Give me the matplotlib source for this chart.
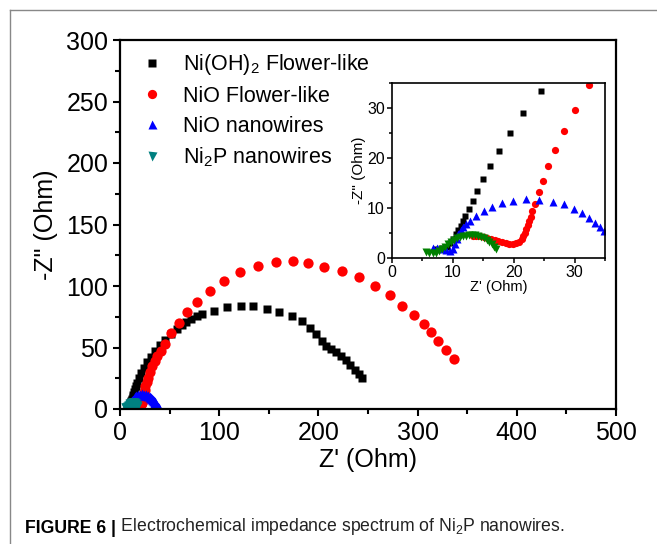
import matplotlib
matplotlib.use("Agg")
import matplotlib.pyplot as plt
from matplotlib.lines import Line2D
from matplotlib.ticker import MultipleLocator

plt.rcParams["font.family"] = ["Liberation Sans", "DejaVu Sans"]
plt.rcParams["mathtext.default"] = "regular"

# Ni(OH)2 flower-like
ohx = [7.3, 8.2, 9.0, 9.6, 10.05, 10.5, 10.9, 11.3, 11.7, 12.1, 12.7, 13.3, 14.0, 14.9,
       16.1, 17.6, 19.4, 21.6, 24.5, 27.5, 31, 35, 40, 45, 51, 57, 62, 67, 72, 78, 83,
       95, 108, 121.6, 134, 148, 160.6, 173, 183, 191.5, 198, 204, 208, 213, 218, 223,
       228, 232, 237, 241, 243.6]
ohy = [1.9, 2.0, 2.2, 3.0, 3.9, 4.8, 5.6, 6.5, 7.4, 8.5, 9.9, 11.5, 13.5, 15.9,
       18.5, 21.5, 25.1, 29.1, 33.5, 38, 42.5, 47, 52, 56.5, 61, 65, 68.5, 71, 73, 75.5, 77,
       80, 82.7, 83.7, 83.5, 81, 79, 76, 71.5, 66, 60.7, 55.5, 51, 49, 46.6, 43,
       40, 35.8, 32, 28.5, 25]

# NiO flower-like
nfx = [13.3, 13.9, 14.5, 15.1, 15.7, 16.3, 16.9, 17.5, 18.1, 18.7, 19.3, 19.9, 20.4,
       20.9, 21.3, 21.6, 21.9, 22.1, 22.3, 22.5, 22.8, 23.1, 23.5, 24.1, 24.8, 25.7,
       26.8, 28.2, 30.1, 32.4, 35, 37.5, 41, 45, 51, 59, 68, 78, 91, 105, 121, 139, 157,
       174, 190, 206, 223.5, 241, 257, 272, 284, 296, 306, 314, 321, 329, 337]
nfy = [4.5, 4.5, 4.4, 4.2, 4.0, 3.8, 3.6, 3.4, 3.2, 3.0, 2.9, 2.9, 3.0,
       3.3, 3.8, 4.4, 5.1, 5.8, 6.6, 7.4, 8.3, 9.4, 10.9, 13.2, 15.5, 18.4,
       21.7, 25.4, 29.7, 34.7, 39, 43, 47, 53, 61.5, 70, 78.6, 87, 96, 104, 111, 116.5, 119.8,
       120.3, 118.5, 115.7, 112.5, 107, 100, 92.7, 84, 76.4, 69, 62.3, 55.3, 48, 41]

# NiO nanowires
nwx = [6.8, 7.5, 8.2, 8.9, 9.5, 10.0, 10.4, 10.7, 10.9, 11.3, 11.7, 12.2, 12.8, 13.9,
       15.1, 16.4, 18.1, 19.9, 22, 24.2, 26.4, 28.3, 29.9, 31.3, 32.3, 33.3, 34.1, 34.8,
       35.6, 36.4, 37.2, 38, 38.8, 39.5]
nwy = [2.0, 2.0, 1.9, 1.7, 1.5, 1.8, 2.8, 3.8, 4.9, 5.6, 6.2, 6.9, 7.5, 8.5,
       9.4, 10.3, 11.1, 11.5, 11.8, 11.7, 11.3, 10.9, 9.9, 9.1, 8.1, 7.0, 6.2, 5.4,
       4.6, 3.7, 2.8, 2.0, 1.2, 0.6]

# Ni2P nanowires
npx = [5.7, 6.2, 6.7, 7.2, 7.7, 8.2, 8.7, 9.2, 9.7, 10.2, 10.7, 11.2, 11.7, 12.2, 12.7,
       13.2, 13.7, 14.2, 14.7, 15.2, 15.6, 16.0, 16.4, 16.8, 17.1]
npy = [1.2, 1.1, 1.0, 1.1, 1.4, 1.8, 2.3, 2.8, 3.3, 3.7, 4.0, 4.2, 4.4, 4.5, 4.6,
       4.6, 4.6, 4.5, 4.3, 4.1, 3.7, 3.3, 2.8, 2.3, 1.9]

labels = ["Ni(OH)$_2$ Flower-like", "NiO Flower-like", "NiO nanowires", "Ni$_2$P nanowires"]

fig = plt.figure(figsize=(6.57, 5.44), dpi=100)

# grey page frame
fig.add_artist(Line2D([10 / 657, 1.0], [1 - 10 / 544] * 2, color="#888888", lw=1.0))
fig.add_artist(Line2D([10 / 657] * 2, [0.0, 1 - 10 / 544], color="#888888", lw=1.0))

ax = fig.add_axes([120 / 657, 1 - 409 / 544, 496 / 657, 369 / 544])
ax.plot(ohx, ohy, "s", color="black", ms=6.2, mec="none", label=labels[0])
ax.plot(nfx, nfy, "o", color="red", ms=7.4, mec="none", label=labels[1])
ax.plot(nwx, nwy, "^", color="blue", ms=7.2, mec="none", label=labels[2])
ax.plot(npx, npy, "v", color="#008080", ms=7.2, mec="none", label=labels[3])
ax.set_xlim(0, 500)
ax.set_ylim(0, 300)
ax.xaxis.set_major_locator(MultipleLocator(100))
ax.xaxis.set_minor_locator(MultipleLocator(50))
ax.yaxis.set_major_locator(MultipleLocator(50))
ax.yaxis.set_minor_locator(MultipleLocator(25))
ax.tick_params(which="both", direction="out", width=1.5, labelsize=18, top=False, right=False)
ax.tick_params(which="major", length=5)
ax.tick_params(which="minor", length=3.5)
for s in ax.spines.values():
    s.set_linewidth(1.6)
ax.set_xlabel("Z' (Ohm)", fontsize=18, labelpad=2)
ax.set_ylabel('-Z" (Ohm)', fontsize=18, labelpad=6)
ax.legend(loc="upper left", frameon=False, fontsize=15.5, handletextpad=0.84,
          labelspacing=0.4, borderaxespad=0.0, handlelength=1.2, markerscale=0.9,
          bbox_to_anchor=(0.021, 0.99))

ins = fig.add_axes([391.7 / 657, 1 - 258 / 544, 213.3 / 657, 175 / 544])
ins.plot(ohx, ohy, "s", color="black", ms=4.5, mec="none")
ins.plot(nfx, nfy, "o", color="red", ms=5.2, mec="none")
ins.plot(nwx, nwy, "^", color="blue", ms=5.6, mec="none")
ins.plot(npx, npy, "v", color="#008000", ms=5.6, mec="none")
ins.set_xlim(0, 35)
ins.set_ylim(0, 35)
ins.xaxis.set_major_locator(MultipleLocator(10))
ins.xaxis.set_minor_locator(MultipleLocator(5))
ins.yaxis.set_major_locator(MultipleLocator(10))
ins.yaxis.set_minor_locator(MultipleLocator(5))
ins.tick_params(which="both", direction="out", width=1.1, labelsize=11.5, top=False,
                right=False, pad=1.5)
ins.tick_params(which="major", length=3.5)
ins.tick_params(which="minor", length=2.5)
for s in ins.spines.values():
    s.set_linewidth(1.2)
ins.set_xlabel("Z' (Ohm)", fontsize=10.5, labelpad=0)
ins.set_ylabel('-Z" (Ohm)', fontsize=11, labelpad=1)

t1 = fig.text(25 / 657, 1 - 533 / 544, "FIGURE 6 |", fontsize=12.7, fontweight="bold",
              ha="left", va="baseline")
ax.annotate(" Electrochemical impedance spectrum of Ni$_2$P nanowires.", xy=(1, 0),
            xycoords=t1, fontsize=12.7, ha="left", va="bottom", annotation_clip=False,
            color="#222222")

fig.savefig("out.png", dpi=100)
